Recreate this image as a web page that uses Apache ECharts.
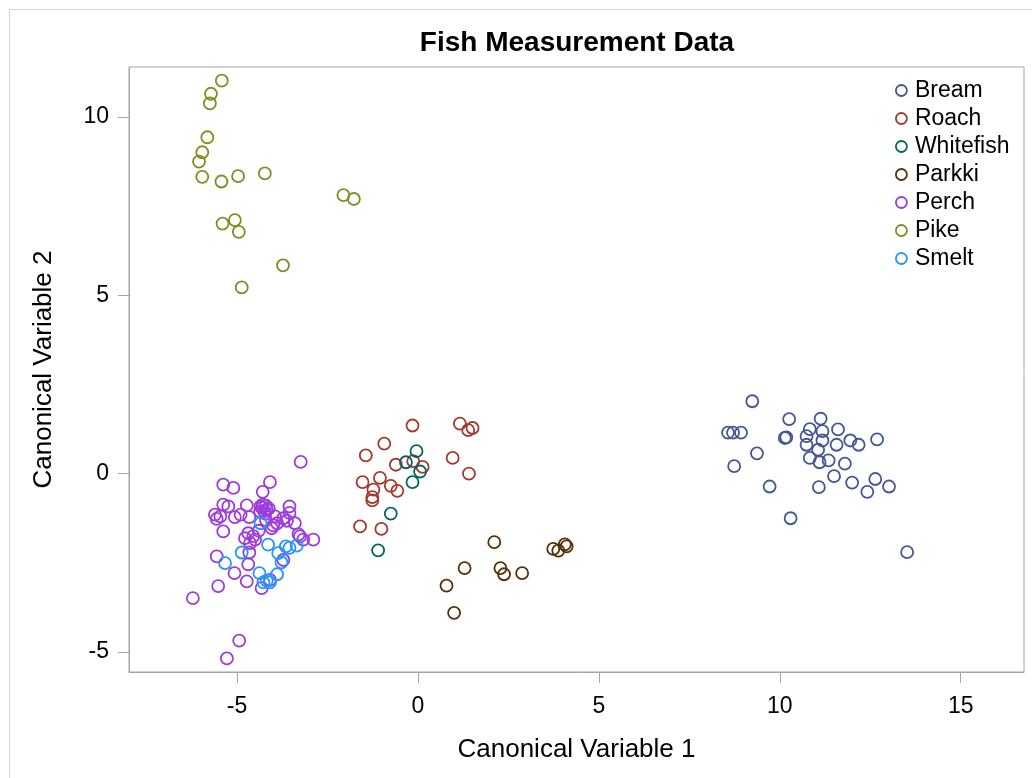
<!DOCTYPE html>
<html>
<head>
<meta charset="utf-8">
<script src="https://cdn.jsdelivr.net/npm/echarts@6/dist/echarts.min.js"></script>
<style>
html,body{margin:0;padding:0;background:#fff;}
#chart{width:1032px;height:778px;}
</style>
</head>
<body>
<div id="chart"></div>
<script>
var species = ['Bream','Roach','Whitefish','Parkki','Perch','Pike','Smelt'];
var colors = ['#445694','#A23A2E','#01665E','#543005','#9D3CDB','#7F8E1F','#2597FA'];
var xTicks = [-5, 0, 5, 10, 15];
var yTicks = [-5, 0, 5, 10];

var bream = [[9.24,2.03],[10.26,1.53],[11.13,1.54],[8.57,1.15],[8.71,1.15],[8.93,1.15],[10.14,1.00],[10.18,1.02],[10.83,1.25],[11.18,1.19],[11.61,1.24],[10.74,1.05],[11.18,0.93],[11.95,0.93],[12.18,0.81],[12.69,0.96],[10.74,0.81],[11.57,0.81],[11.06,0.67],[9.37,0.57],[10.83,0.44],[11.10,0.32],[11.35,0.37],[11.80,0.28],[8.74,0.21],[11.50,-0.07],[12.64,-0.15],[12.00,-0.25],[13.02,-0.36],[9.72,-0.36],[11.08,-0.38],[12.42,-0.51],[10.30,-1.25],[13.52,-2.20]];
var roach = [[-0.15,1.35],[1.16,1.40],[1.39,1.22],[1.51,1.28],[-0.93,0.84],[-1.44,0.51],[0.96,0.44],[-0.61,0.25],[-0.13,0.35],[0.13,0.19],[1.41,0.00],[-1.53,-0.24],[-1.05,-0.12],[-0.75,-0.34],[-0.57,-0.48],[-1.23,-0.45],[-1.26,-0.66],[-1.26,-0.75],[-1.60,-1.48],[-1.01,-1.55]];
var whitefish = [[-0.04,0.63],[-0.33,0.32],[0.06,0.06],[-0.15,-0.24],[-0.75,-1.12],[-1.10,-2.15]];
var parkki = [[2.11,-1.92],[3.74,-2.11],[3.88,-2.16],[4.06,-1.98],[4.11,-2.04],[1.29,-2.65],[2.28,-2.65],[2.38,-2.82],[2.88,-2.79],[0.79,-3.14],[1.00,-3.90]];
var perch = [[-3.24,0.33],[-4.09,-0.24],[-5.38,-0.31],[-5.10,-0.40],[-4.29,-0.51],[-5.38,-0.87],[-5.24,-0.92],[-4.73,-0.89],[-4.29,-0.87],[-4.18,-1.01],[-4.36,-1.06],[-4.22,-1.12],[-4.30,-0.95],[-4.20,-0.90],[-3.55,-0.92],[-3.55,-1.10],[-5.61,-1.15],[-5.56,-1.27],[-5.46,-1.20],[-5.06,-1.22],[-4.66,-1.22],[-3.95,-1.20],[-3.72,-1.25],[-3.40,-1.39],[-3.89,-1.39],[-5.38,-1.62],[-4.69,-1.67],[-4.04,-1.53],[-4.00,-1.45],[-4.78,-1.81],[-4.64,-1.95],[-4.50,-1.85],[-3.26,-1.76],[-3.17,-1.85],[-2.89,-1.85],[-5.56,-2.32],[-4.66,-2.21],[-4.69,-2.54],[-5.07,-2.79],[-4.73,-3.02],[-4.32,-3.21],[-4.09,-2.98],[-5.52,-3.15],[-3.72,-2.42],[-6.22,-3.49],[-4.94,-4.68],[-5.28,-5.18],[-4.55,-1.75],[-3.30,-1.70],[-4.40,-1.60],[-4.25,-1.05],[-4.12,-0.98],[-4.35,-0.92],[-3.62,-1.32],[-4.90,-1.15],[-4.20,-1.30]];
var pike = [[-5.42,11.02],[-5.72,10.65],[-5.75,10.38],[-5.82,9.43],[-5.96,9.01],[-6.05,8.75],[-5.96,8.32],[-5.43,8.19],[-4.97,8.34],[-4.23,8.42],[-2.06,7.81],[-1.77,7.70],[-5.40,7.01],[-5.06,7.11],[-4.95,6.78],[-3.73,5.84],[-4.87,5.22]];
var smelt = [[-4.35,-1.39],[-4.14,-1.99],[-4.87,-2.21],[-5.33,-2.51],[-3.86,-2.23],[-3.65,-2.04],[-3.55,-2.08],[-3.35,-2.02],[-3.77,-2.49],[-4.38,-2.79],[-3.89,-2.82],[-4.27,-3.05],[-4.09,-3.05],[-4.18,-3.00]];

var groups = [bream, roach, whitefish, parkki, perch, pike, smelt];
var FONT = '"Liberation Sans", Arial, sans-serif';
var axisGray = '#a2a5aa';

var chart = echarts.init(document.getElementById('chart'), null, {renderer:'canvas'});
var series = species.map(function(name, i){
  return {
    name: name,
    type: 'scatter',
    data: groups[i],
    symbol: 'circle',
    symbolSize: 12,
    itemStyle: {color: 'rgba(0,0,0,0)', borderColor: colors[i], borderWidth: 1.8, opacity: 1},
    emphasis: {disabled: true},
    z: 2
  };
});

chart.setOption({
  animation: false,
  backgroundColor: '#ffffff',
  graphic: [{
    type: 'rect', left: 7, top: 7, silent: true,
    shape: {width: 1100, height: 900},
    style: {fill: 'none', stroke: '#d4d4d4', lineWidth: 1}
  }],
  title: {
    text: 'Fish Measurement Data',
    left: 577, top: 29, textAlign: 'center', padding: 0,
    textStyle: {fontFamily: FONT, fontSize: 28, fontWeight: 'bold', color: '#000'}
  },
  legend: {
    orient: 'vertical',
    left: 895, top: 79,
    itemWidth: 13, itemHeight: 11, itemGap: 5,
    padding: 0,
    textStyle: {fontFamily: FONT, fontSize: 23, color: '#000', lineHeight: 23, padding: [0,0,0,2]},
    data: species.map(function(name, i){
      return {name: name, icon: 'circle',
        itemStyle: {color: 'rgba(0,0,0,0)', borderColor: colors[i], borderWidth: 1.8}};
    })
  },
  grid: {
    left: 129, right: 8, top: 67, bottom: 106,
    show: true, borderColor: axisGray, borderWidth: 1, backgroundColor: 'transparent'
  },
  xAxis: {
    type: 'value', min: -7.985, max: 16.75,
    name: 'Canonical Variable 1', nameLocation: 'middle', nameGap: 65,
    nameTextStyle: {fontFamily: FONT, fontSize: 26, color: '#000'},
    axisLine: {show: true, onZero: false, lineStyle: {color: axisGray, width: 1}},
    axisTick: {show: true, inside: false, length: 11, lineStyle: {color: axisGray}, customValues: xTicks},
    axisLabel: {fontFamily: FONT, fontSize: 23, color: '#000', margin: 23, customValues: xTicks},
    splitLine: {show: false}
  },
  yAxis: {
    type: 'value', min: -5.56, max: 11.40,
    name: 'Canonical Variable 2', nameLocation: 'middle', nameGap: 72, nameRotate: 90,
    nameTextStyle: {fontFamily: FONT, fontSize: 26, color: '#000'},
    axisLine: {show: true, onZero: false, lineStyle: {color: axisGray, width: 1}},
    axisTick: {show: true, inside: false, length: 11, lineStyle: {color: axisGray}, customValues: yTicks},
    axisLabel: {fontFamily: FONT, fontSize: 23, color: '#000', margin: 20, padding: [4,0,0,0], customValues: yTicks},
    splitLine: {show: false}
  },
  series: series
});
</script>
</body>
</html>
